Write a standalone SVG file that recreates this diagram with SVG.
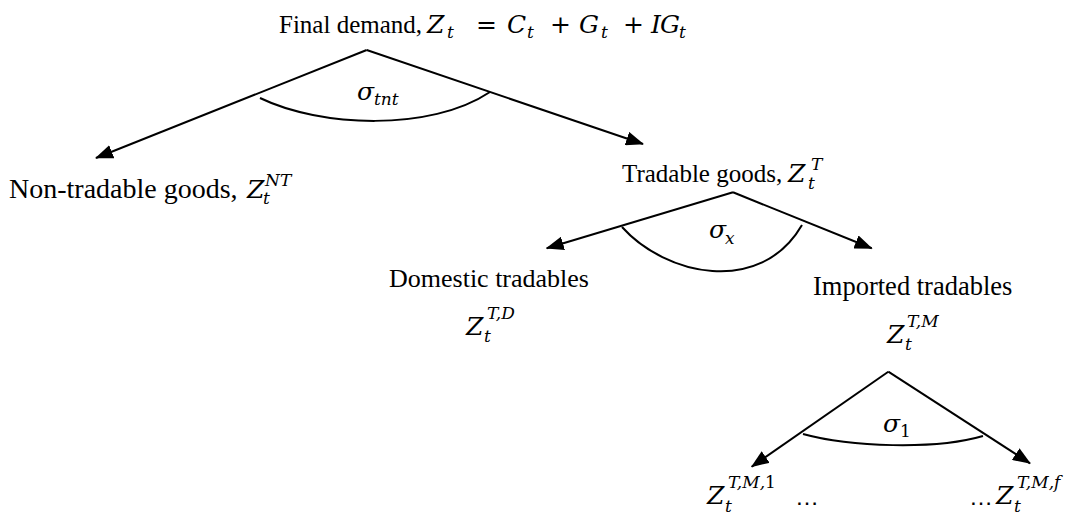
<svg xmlns="http://www.w3.org/2000/svg" width="1079" height="517" viewBox="0 0 1079 517">
<style>
.t{font-family:"Liberation Serif","Times New Roman",serif;font-size:25px;fill:#000}
.m{font-family:"DejaVu Serif",serif;font-style:italic;font-size:25px;fill:#000}
.mu{font-family:"DejaVu Serif",serif;font-size:25px;fill:#000}
.s{font-family:"DejaVu Serif",serif;font-style:italic;font-size:17px;fill:#000}
.su{font-family:"DejaVu Serif",serif;font-size:17px;fill:#000}
.d{font-family:"Liberation Sans",Arial,sans-serif;font-size:24px;fill:#000}
.ln{stroke:#000;stroke-width:2;fill:none}
.ar{stroke:#000;stroke-width:2;fill:none;marker-end:url(#ah)}
</style>
<defs>
<marker id="ah" viewBox="0 0 18 14" refX="17" refY="7" markerWidth="18" markerHeight="14" markerUnits="userSpaceOnUse" orient="auto">
<path d="M0,0 L18,7 L0,14 z" fill="#000"/>
</marker>
</defs>
<g id="connectors">
<line class="ar" x1="366.7" y1="50" x2="96" y2="158"/>
<line class="ar" x1="366.7" y1="50" x2="643" y2="144"/>
<path class="ln" d="M260,98 C320,127 430,132 490,92"/>
<line class="ar" x1="733" y1="192.3" x2="546.7" y2="248.3"/>
<line class="ar" x1="733" y1="192.3" x2="871.7" y2="248.3"/>
<path class="ln" d="M622,227 C665,275 760,297 802,225"/>
<line class="ar" x1="888.3" y1="371.7" x2="751.7" y2="466.7"/>
<line class="ar" x1="888.3" y1="371.7" x2="1030" y2="463.3"/>
<path class="ln" d="M803,434 C850,447 935,450 983,436"/>
</g>
<g id="node-final-demand">
<text class="t" x="279" y="33">Final demand,</text>
<text class="m" x="427" y="33">Z</text><text class="s" x="447" y="38">t</text>
<text class="mu" x="476" y="33">=</text>
<text class="m" x="507" y="33">C</text><text class="s" x="527" y="38">t</text>
<text class="mu" x="550" y="33">+</text>
<text class="m" x="579" y="33">G</text><text class="s" x="601" y="38">t</text>
<text class="mu" x="623" y="33">+</text>
<text class="m" x="651" y="33">I</text><text class="m" x="660" y="33">G</text><text class="s" x="679" y="38">t</text>
</g>
<g id="sigma-tnt">
<text class="m" x="357" y="100">σ</text><text class="s" x="374" y="105">tnt</text>
</g>
<g id="node-non-tradable">
<text class="t" x="9" y="198" style="font-size:28px">Non-tradable goods,</text>
<text class="m" x="247" y="198">Z</text><text class="s" x="265" y="186">NT</text><text class="s" x="263" y="204">t</text>
</g>
<g id="node-tradable">
<text class="t" x="622" y="182">Tradable goods,</text>
<text class="m" x="788" y="182">Z</text><text class="s" x="811" y="170">T</text><text class="s" x="808" y="189">t</text>
</g>
<g id="sigma-x">
<text class="m" x="709" y="238">σ</text><text class="s" x="725" y="244">x</text>
</g>
<g id="node-domestic">
<text class="t" x="389" y="287" style="font-size:26px">Domestic tradables</text>
<text class="m" x="466" y="335">Z</text><text class="s" x="487" y="319">T,D</text><text class="s" x="484" y="342">t</text>
</g>
<g id="node-imported">
<text class="t" x="813" y="295" style="font-size:26.5px">Imported tradables</text>
<text class="m" x="887" y="343">Z</text><text class="s" x="907" y="327">T,M</text><text class="s" x="905" y="350">t</text>
</g>
<g id="sigma-1">
<text class="m" x="883" y="432">σ</text><text class="su" x="900" y="437">1</text>
</g>
<g id="node-import-1">
<text class="m" x="707" y="504">Z</text><text class="s" x="728" y="488">T,M,<tspan style="font-style:normal">1</tspan></text><text class="s" x="725" y="512">t</text>
<text class="d" x="795" y="505">…</text>
</g>
<g id="node-import-f">
<text class="d" x="969" y="505">…</text>
<text class="m" x="996" y="504">Z</text><text class="s" x="1017" y="488">T,M,f</text><text class="s" x="1014" y="512">t</text>
</g>
</svg>
